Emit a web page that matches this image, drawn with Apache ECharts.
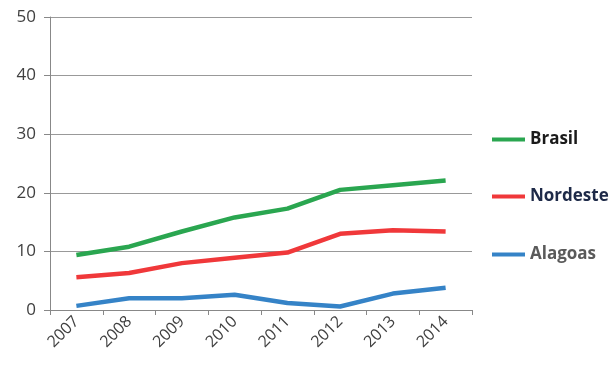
<!DOCTYPE html>
<html>
<head>
<meta charset="utf-8">
<script src="https://cdn.jsdelivr.net/npm/echarts@6/dist/echarts.min.js"></script>
<style>html,body{margin:0;padding:0;background:#fff}#c{width:611px;height:367px}</style>
</head>
<body>
<div id="c"></div>
<script>
const years = ['2007','2008','2009','2010','2011','2012','2013','2014'];
const brasil = [9.4, 10.8, 13.4, 15.8, 17.3, 20.5, 21.3, 22.1];
const nordeste = [5.6, 6.3, 8.0, 8.9, 9.8, 13.0, 13.6, 13.4];
const alagoas = [0.7, 2.0, 2.0, 2.6, 1.2, 0.6, 2.8, 3.8];
const yTicks = [0, 10, 20, 30, 40, 50];

const chart = echarts.init(document.getElementById('c'), null, {renderer: 'canvas'});
const font = '"Open Sans", Lato, sans-serif';
function mkLegend(name, top, color) {
  return {
    data: [name], left: 487, top: top, icon: 'rect', itemWidth: 33, itemHeight: 4,
    textStyle: {fontFamily: font, fontWeight: 'bold', fontSize: 17, color: color},
    selectedMode: false
  };
}
chart.setOption({
  animation: false,
  grid: {left: 50, right: 139, top: 17, bottom: 57, show: false, borderWidth: 0},
  legend: [
    mkLegend('Brasil', 126, '#1a1a1a'),
    mkLegend('Nordeste', 183, '#1e2a48'),
    mkLegend('Alagoas', 241, '#5a5a5a')
  ],
  xAxis: {
    type: 'category', data: years, boundaryGap: true,
    axisLine: {lineStyle: {color: '#888', width: 1}},
    axisTick: {show: true, length: 5, lineStyle: {color: '#888'}},
    splitLine: {show: false},
    axisLabel: {rotate: 45, fontFamily: font, fontSize: 16, color: '#404040', margin: 9}
  },
  yAxis: {
    type: 'value', min: yTicks[0], max: yTicks[yTicks.length - 1], interval: 10,
    axisLine: {show: true, lineStyle: {color: '#888'}},
    axisTick: {show: true, length: 6, lineStyle: {color: '#888'}},
    splitLine: {show: true, lineStyle: {color: '#999', width: 1}},
    axisLabel: {fontFamily: font, fontSize: 17, color: '#404040', margin: 14}
  },
  series: [
    {name: 'Brasil', type: 'line', data: brasil, showSymbol: false, symbol: 'none',
     lineStyle: {width: 4.5, color: '#2aa650'}, itemStyle: {color: '#2aa650'}},
    {name: 'Nordeste', type: 'line', data: nordeste, showSymbol: false, symbol: 'none',
     lineStyle: {width: 4.5, color: '#f0383a'}, itemStyle: {color: '#f0383a'}},
    {name: 'Alagoas', type: 'line', data: alagoas, showSymbol: false, symbol: 'none',
     lineStyle: {width: 4.5, color: '#3583c7'}, itemStyle: {color: '#3583c7'}}
  ]
});
</script>
</body>
</html>
